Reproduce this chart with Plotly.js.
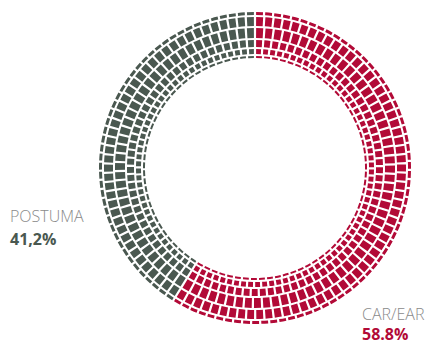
<!DOCTYPE html>
<html>
<head>
<meta charset="utf-8">
<script src="https://cdn.plot.ly/plotly-3.0.1.min.js"></script>
<style>html,body{margin:0;padding:0;background:#fff;}#chart{width:428px;height:344px;}</style>
</head>
<body>
<div id="chart"></div>
<script>
// Data
const categories = ['CAR/EAR', 'POSTUMA'];
const values = [58.8, 41.2];
const valueLabels = ['58.8%', '41,2%'];
const colors = ['#b20a37', '#4a5850'];

// Ring styling: [inner radius, outer radius, block length] in radial axis units (px)
const rings = [
  [153, 156, 9],
  [142, 151, 9],
  [130, 140, 9],
  [121, 128, 8],
  [114, 119, 7],
  [110, 112, 8]
];
const gapPx = 2.2;

const total = values.reduce((a, b) => a + b, 0);
const traces = [];
let start = 0;
values.forEach((v, ci) => {
  const span = v / total * 360;
  const theta = [], r = [], base = [], width = [];
  rings.forEach(([r0, r1, len]) => {
    const rm = (r0 + r1) / 2;
    const arc = span * Math.PI / 180 * rm;
    const n = Math.max(1, Math.round(arc / len));
    const step = span / n;
    const gapDeg = gapPx / rm * 180 / Math.PI;
    for (let i = 0; i < n; i++) {
      theta.push(start + (i + 0.5) * step);
      r.push(r1 - r0);
      base.push(r0);
      width.push(step - gapDeg);
    }
  });
  traces.push({
    type: 'barpolar',
    theta: theta, r: r, base: base, width: width,
    marker: {color: colors[ci], line: {width: 0}},
    hoverinfo: 'skip',
    name: categories[ci]
  });
  start += span;
});

const layout = {
  width: 428, height: 344,
  margin: {l: 0, r: 0, t: 0, b: 0},
  paper_bgcolor: '#ffffff',
  showlegend: false,
  polar: {
    domain: {x: [(255 - 157) / 428, (255 + 157) / 428], y: [(344 - 168 - 157) / 344, (344 - 168 + 157) / 344]},
    bgcolor: '#ffffff',
    radialaxis: {visible: false, range: [0, 157]},
    angularaxis: {visible: false, rotation: 90, direction: 'clockwise'},
    bargap: 0
  },
  annotations: [
    {xref: 'paper', yref: 'paper', x: 8 / 428, y: 1 - 216 / 344, xanchor: 'left', yanchor: 'middle',
     text: 'POSTUMA', showarrow: false, font: {family: 'Open Sans', size: 16, color: '#8a8a8a', weight: 300}},
    {xref: 'paper', yref: 'paper', x: 8 / 428, y: 1 - 239 / 344, xanchor: 'left', yanchor: 'middle',
     text: '<b>' + valueLabels[1] + '</b>', showarrow: false, font: {family: 'Open Sans', size: 16, color: colors[1]}},
    {xref: 'paper', yref: 'paper', x: 360 / 428, y: 1 - 314 / 344, xanchor: 'left', yanchor: 'middle',
     text: 'CAR/EAR', showarrow: false, font: {family: 'Open Sans', size: 16, color: '#8a8a8a', weight: 300}},
    {xref: 'paper', yref: 'paper', x: 360 / 428, y: 1 - 334 / 344, xanchor: 'left', yanchor: 'middle',
     text: '<b>' + valueLabels[0] + '</b>', showarrow: false, font: {family: 'Open Sans', size: 16, color: colors[0]}}
  ]
};

Plotly.newPlot('chart', traces, layout, {displayModeBar: false, staticPlot: true});
</script>
</body>
</html>
